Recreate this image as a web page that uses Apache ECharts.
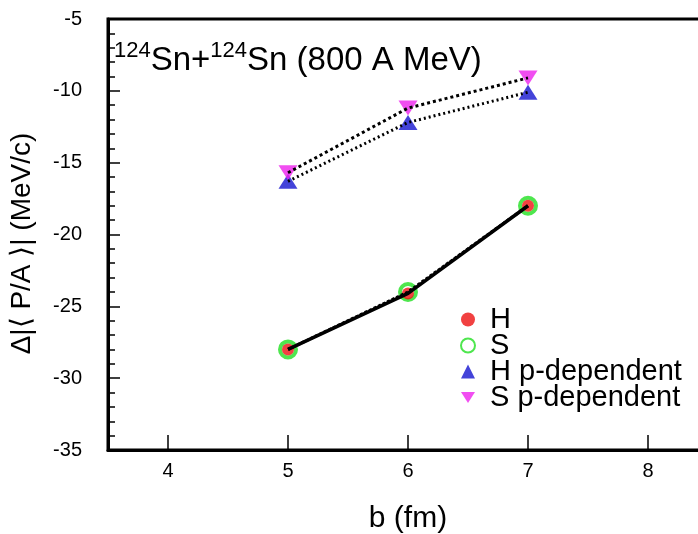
<!DOCTYPE html>
<html>
<head>
<meta charset="utf-8">
<script src="https://cdn.jsdelivr.net/npm/echarts@6/dist/echarts.min.js"></script>
<style>
  html, body { margin: 0; padding: 0; background: #fff; }
  #chart { width: 698px; height: 534px; }
</style>
</head>
<body>
<div id="chart"></div>
<script>
// Impact parameter b (fm)
const impactParam = [5, 6, 7];
// Δ|<P/A>| (MeV/c) for each equation-of-state option
const hardValues = [-28.0, -24.1, -18.0];
const softValues = [-28.0, -24.0, -18.0];
const hardMomDepValues = [-16.3, -12.2, -10.1];
const softMomDepValues = [-15.7, -11.2, -9.1];
const xTickValues = [4, 5, 6, 7, 8];

const FONT = '"Liberation Sans", Arial, Helvetica, sans-serif';
const downTriangle = 'path://M0,0 L20,0 L10,16 Z';

function pairs(xs, ys) { return xs.map((x, i) => [x, ys[i]]); }

const chart = echarts.init(document.getElementById('chart'));

chart.setOption({
  animation: false,
  backgroundColor: '#fff',
  grid: {
    left: 108, top: 19, right: -10, bottom: 84,
    outerBoundsMode: 'none', containLabel: false,
    show: true, borderColor: '#000', borderWidth: 3, backgroundColor: 'transparent'
  },
  title: {
    text: '{sup|124}{big|Sn+}{sup|124}{big|Sn (800 A MeV)}',
    left: 109, top: 35,
    textStyle: {
      fontWeight: 'normal',
      rich: {
        big: { fontFamily: FONT, fontSize: 33, fontWeight: 'normal', color: '#000', verticalAlign: 'bottom', lineHeight: 37 },
        sup: { fontFamily: FONT, fontSize: 22, fontWeight: 'normal', color: '#000', verticalAlign: 'top', lineHeight: 37, padding: [0, 0, 13, 0] }
      }
    }
  },
  xAxis: {
    type: 'value', min: 3.5, max: 8.5, interval: 0.5,
    name: 'b (fm)', nameLocation: 'middle', nameGap: 54,
    nameTextStyle: { fontFamily: FONT, fontSize: 30, color: '#000' },
    axisLine: { show: true, lineStyle: { color: '#000', width: 3 } },
    axisTick: { inside: true, length: 15, customValues: xTickValues, lineStyle: { color: '#000', width: 1.5 } },
    axisLabel: { customValues: xTickValues, margin: 11, fontFamily: FONT, fontSize: 20, color: '#000' },
    splitLine: { show: false }
  },
  yAxis: {
    type: 'value', min: -35, max: -5, interval: 5,
    name: 'Δ|⟨ P/A ⟩| (MeV/c)', nameLocation: 'middle', nameGap: 72, nameRotate: 90,
    nameTextStyle: { fontFamily: FONT, fontSize: 28, color: '#000', padding: [0, 18, 0, 0] },
    axisLine: { show: true, lineStyle: { color: '#000', width: 3 } },
    axisTick: { inside: true, length: 12, lineStyle: { color: '#000', width: 1.5 } },
    minorTick: { show: true, splitNumber: 5, length: 7, lineStyle: { color: '#000', width: 1.5 } },
    axisLabel: { margin: 26, fontFamily: FONT, fontSize: 20, color: '#000' },
    splitLine: { show: false }
  },
  legend: {
    orient: 'vertical', left: 455, top: 300,
    itemWidth: 14, itemHeight: 14, itemGap: -3,
    textStyle: { fontFamily: FONT, fontSize: 29, color: '#000', padding: [0, 0, 0, 10] },
    data: [
      { name: 'H', icon: 'circle' },
      { name: 'S', icon: 'circle' },
      { name: 'H p-dependent', icon: 'triangle' },
      { name: 'S p-dependent', icon: downTriangle }
    ]
  },
  series: [
    {
      name: 'S', type: 'scatter', z: 2,
      data: pairs(impactParam, softValues),
      symbol: 'circle', symbolSize: 16,
      itemStyle: { color: 'rgba(0,0,0,0)', borderColor: '#22e022', borderWidth: 4 }
    },
    {
      name: 'H', type: 'scatter', z: 3,
      data: pairs(impactParam, hardValues),
      symbol: 'circle', symbolSize: 12,
      itemStyle: { color: '#ee1111' }
    },
    {
      name: 'H p-dependent', type: 'scatter', z: 2,
      data: pairs(impactParam, hardMomDepValues),
      symbol: 'triangle', symbolSize: [19, 15],
      itemStyle: { color: '#1414d0' }
    },
    {
      name: 'S p-dependent', type: 'scatter', z: 3,
      data: pairs(impactParam, softMomDepValues),
      symbol: downTriangle, symbolSize: [19, 15],
      itemStyle: { color: '#ee22ee' }
    },
    // connecting curves drawn over the markers
    {
      name: 'H line', type: 'line', z: 5, symbol: 'none', silent: true,
      data: pairs(impactParam, hardValues),
      lineStyle: { color: '#000', width: 3.5, type: 'solid' }
    },
    {
      name: 'S line', type: 'line', z: 5, symbol: 'none', silent: true,
      data: pairs(impactParam, softValues),
      lineStyle: { color: '#000', width: 3, type: [3, 2] }
    },
    {
      name: 'H p line', type: 'line', z: 5, symbol: 'none', silent: true,
      data: pairs(impactParam, hardMomDepValues),
      lineStyle: { color: '#000', width: 3, type: [2, 3] }
    },
    {
      name: 'S p line', type: 'line', z: 5, symbol: 'none', silent: true,
      data: pairs(impactParam, softMomDepValues),
      lineStyle: { color: '#000', width: 3, type: [3, 3] }
    }
  ]
});
</script>
</body>
</html>
